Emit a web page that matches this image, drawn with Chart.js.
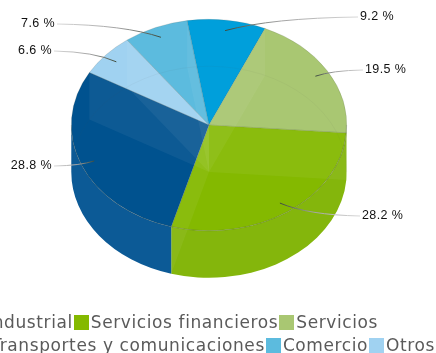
<!DOCTYPE html>
<html>
<head>
<meta charset="utf-8">
<script src="https://cdn.jsdelivr.net/npm/chart.js@4"></script>
<style>
  html, body { margin: 0; padding: 0; background: #fff; }
  #wrap { position: relative; width: 436px; height: 353px; overflow: hidden; }
  canvas { position: absolute; left: 0; top: 0; }
  .row { position: absolute; white-space: nowrap; display: flex; align-items: center; font: 17px "DejaVu Sans", sans-serif; letter-spacing: 0.6px; color: #5a5a5a; height: 20px; }
  .box { display: inline-block; width: 15px; height: 15px; margin: 0 2px 0 1px; flex: none; }
</style>
</head>
<body>
<div id="wrap"><canvas id="pie" width="436" height="353"></canvas></div>
<script>
'use strict';

/* ── Data (legend order, the pie runs the other way round) ───────── */
const categories = ['Industrial', 'Servicios financieros', 'Servicios', 'Transportes y comunicaciones', 'Comercio', 'Otros'];
const shares = [28.8, 28.2, 19.5, 9.2, 7.6, 6.6];
const colors = ['#00528f', '#84b900', '#a9c772', '#009fdb', '#5cbbde', '#a0d2f1'];
const wallColors = ['#0c5a96', '#84b60c', '#a9c772', '#009fdb', '#5cbbde', '#a0d2f1'];
const legendRows = [[0, 1, 2], [3, 4, 5]];

/* ── Layout ──────────────────────────────────────────────────────── */
const TILT = 0.768;     // squash of the pie's circle
const TOP_Y = 125;      // centre of the top face
const DEPTH = 47;       // height of the wall
const ROTATION = -60.3;
const labelPos = [      // where each % label sits, same order as categories
    { x: 52, y: 166, align: 'right' },
    { x: 362, y: 216, align: 'left' },
    { x: 365, y: 70, align: 'left' },
    { x: 360, y: 17, align: 'left' },
    { x: 55, y: 24, align: 'right' },
    { x: 52, y: 51, align: 'right' }
];

const reversed = arr => arr.slice().reverse();

function toScreen(arc, angle, r, depth) {
    return {
        x: arc.x + Math.cos(angle) * r,
        y: TOP_Y + Math.sin(angle) * r * TILT + depth
    };
}

/* ── Walls, see-through edges and labels around the library's arcs ── */
const pie3d = {
    id: 'pie3d',
    beforeDatasetsDraw(chart) {
        const ctx = chart.ctx;
        const arcs = chart.getDatasetMeta(0).data;
        const walls = reversed(wallColors);

        arcs.forEach((arc, i) => {
            // only the part of the rim that faces the viewer
            const a0 = Math.max(arc.startAngle, 0);
            const a1 = Math.min(arc.endAngle, Math.PI);
            if (a1 <= a0) return;
            const R = arc.outerRadius;
            const p0 = toScreen(arc, a0, R, 0);
            const p1 = toScreen(arc, a1, R, DEPTH);
            ctx.beginPath();
            ctx.ellipse(arc.x, TOP_Y, R, R * TILT, 0, a0, a1);
            ctx.lineTo(p1.x, p1.y);
            ctx.ellipse(arc.x, TOP_Y + DEPTH, R, R * TILT, 0, a1, a0, true);
            ctx.lineTo(p0.x, p0.y);
            ctx.closePath();
            ctx.fillStyle = walls[i];
            ctx.fill();
        });

        // top face: squash the circle the library draws
        const cy = arcs[0].y;
        ctx.save();
        ctx.translate(0, TOP_Y);
        ctx.scale(1, TILT);
        ctx.translate(0, -cy);
    },
    afterDatasetsDraw(chart) {
        const ctx = chart.ctx;
        ctx.restore();
        const arcs = chart.getDatasetMeta(0).data;
        const first = arcs[0];
        const R = first.outerRadius;

        // inner walls showing through the translucent top
        arcs.forEach(arc => {
            const edge = toScreen(arc, arc.startAngle, R, 0);
            ctx.beginPath();
            ctx.moveTo(arc.x, TOP_Y);
            ctx.lineTo(edge.x, edge.y);
            ctx.lineTo(edge.x, edge.y + DEPTH);
            ctx.lineTo(arc.x, TOP_Y + DEPTH);
            ctx.closePath();
            ctx.fillStyle = 'rgba(255,255,255,0.05)';
            ctx.fill();
        });

        // back of the floor and front of the top rim
        ctx.lineWidth = 0.7;
        ctx.strokeStyle = 'rgba(70,80,70,0.08)';
        ctx.beginPath();
        ctx.ellipse(first.x, TOP_Y + DEPTH, R, R * TILT, 0, Math.PI, Math.PI * 2);
        ctx.stroke();
        ctx.strokeStyle = 'rgba(70,80,70,0.28)';
        ctx.beginPath();
        ctx.ellipse(first.x, TOP_Y, R, R * TILT, 0, 0, Math.PI);
        ctx.stroke();

        // leader lines and percentages
        const vals = reversed(shares);
        const pos = reversed(labelPos);
        ctx.font = '12.5px "Liberation Sans", sans-serif';
        ctx.letterSpacing = '0.4px';
        ctx.textBaseline = 'middle';
        arcs.forEach((arc, i) => {
            const mid = (arc.startAngle + arc.endAngle) / 2;
            const a = toScreen(arc, mid, R * 0.9, 0);
            const l = pos[i];
            const w = ctx.measureText(vals[i].toFixed(1) + ' %').width;
            const lineX = l.align === 'left' ? l.x - 2 : l.x + 2;
            const grad = ctx.createLinearGradient(lineX, l.y, a.x, a.y);
            grad.addColorStop(0, '#d8d8d8');
            grad.addColorStop(0.6, '#a0a0a0');
            grad.addColorStop(1, '#3c4a3c');
            ctx.beginPath();
            ctx.moveTo(lineX, l.y);
            ctx.quadraticCurveTo(a.x + (lineX - a.x) * 0.35, l.y + (a.y - l.y) * 0.08, a.x, a.y);
            ctx.strokeStyle = grad;
            ctx.lineWidth = 1;
            ctx.stroke();
            ctx.fillStyle = '#111';
            ctx.textAlign = 'left';
            ctx.fillText(vals[i].toFixed(1) + ' %', l.align === 'left' ? l.x : l.x - w, l.y);
        });
    }
};

new Chart(document.getElementById('pie'), {
    type: 'pie',
    data: {
        labels: reversed(categories),
        datasets: [{
            data: reversed(shares),
            backgroundColor: reversed(colors),
            borderColor: 'rgba(90,100,90,0.35)',
            borderWidth: 0.6
        }]
    },
    options: {
        responsive: false,
        animation: false,
        rotation: ROTATION,
        layout: { padding: { left: 71, right: 89, top: 38.5, bottom: 38.5 } },
        plugins: { legend: { display: false }, tooltip: { enabled: false } }
    },
    plugins: [pie3d]
});

/* ── Legend: wider than the page, so it runs off the left edge ───── */
const wrap = document.getElementById('wrap');
legendRows.forEach((row, r) => {
    const el = document.createElement('div');
    el.className = 'row';
    el.style.top = (r === 0 ? 312 : 335) + 'px';
    el.style.right = (r === 0 ? 58 : 1) + 'px';
    row.forEach(idx => {
        const box = document.createElement('span');
        box.className = 'box';
        box.style.background = colors[idx];
        el.appendChild(box);
        el.appendChild(document.createTextNode(categories[idx]));
    });
    wrap.appendChild(el);
});
</script>
</body>
</html>
